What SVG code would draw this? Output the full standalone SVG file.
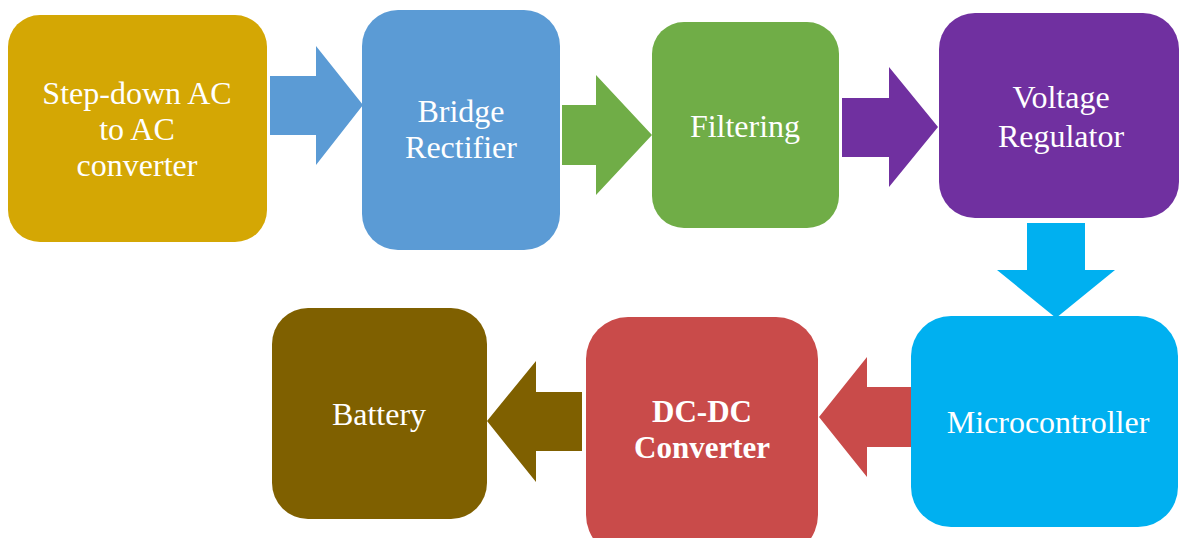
<svg xmlns="http://www.w3.org/2000/svg" width="1180" height="538" viewBox="0 0 1180 538">
  <style>
    .lbl { font-family: "Liberation Serif", "Times New Roman", serif; font-size: 32px; fill: #ffffff; text-anchor: middle; }
    .bold { font-weight: bold; font-size: 31px; }
  </style>
  <rect width="1180" height="538" fill="#ffffff"/>

  <!-- block arrows between stages -->
  <g id="connectors">
    <polygon fill="#5B9BD5" points="270,76 316,76 316,46 363,105 316,165 316,135 270,135"/>
    <polygon fill="#70AD47" points="562,105 596,105 596,75 652,135 596,195 596,165 562,165"/>
    <polygon fill="#7030A0" points="842,98 889,98 889,67 938,127 889,187 889,157 842,157"/>
    <polygon fill="#00B0F0" points="1027,223 1085,223 1085,270 1115,270 1056,318 997,270 1027,270"/>
    <polygon fill="#C94B4A" points="913,387 867,387 867,357 819,417 867,477 867,447 913,447"/>
    <polygon fill="#7F6000" points="582,392 536,392 536,361 487,421 536,482 536,451 582,451"/>
  </g>

  <g id="step-down">
    <rect x="8" y="15" width="259" height="227" rx="32" fill="#D4A704"/>
    <text class="lbl" x="137" y="104">Step-down AC</text>
    <text class="lbl" x="137" y="140">to AC</text>
    <text class="lbl" x="137" y="176">converter</text>
  </g>

  <g id="rectifier">
    <rect x="362" y="10" width="198" height="240" rx="36" fill="#5B9BD5"/>
    <text class="lbl" x="461" y="122">Bridge</text>
    <text class="lbl" x="461" y="158">Rectifier</text>
  </g>

  <g id="filtering">
    <rect x="652" y="22" width="187" height="206" rx="32" fill="#70AD47"/>
    <text class="lbl" x="745" y="137">Filtering</text>
  </g>

  <g id="regulator">
    <rect x="939" y="13" width="240" height="205" rx="36" fill="#7030A0"/>
    <text class="lbl" x="1061" y="108">Voltage</text>
    <text class="lbl" x="1061" y="147">Regulator</text>
  </g>

  <g id="microcontroller">
    <rect x="911" y="316" width="267" height="211" rx="40" fill="#00B0F0"/>
    <text class="lbl" x="1048" y="433">Microcontroller</text>
  </g>

  <g id="dcdc">
    <rect x="586" y="317" width="232" height="240" rx="42" fill="#C94B4A"/>
    <text class="lbl bold" x="702" y="422">DC-DC</text>
    <text class="lbl bold" x="702" y="458">Converter</text>
  </g>

  <g id="battery">
    <rect x="272" y="308" width="215" height="211" rx="36" fill="#7F6000"/>
    <text class="lbl" x="379" y="425">Battery</text>
  </g>
</svg>
